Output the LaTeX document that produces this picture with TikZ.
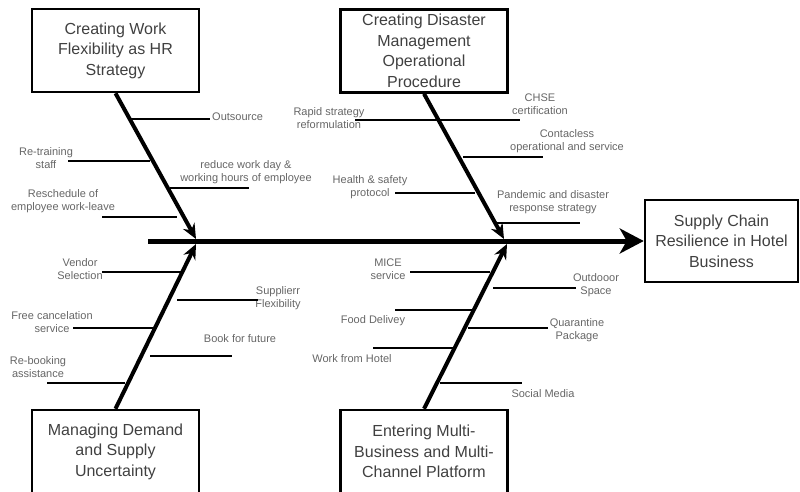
\documentclass[tikz,border=0pt]{standalone}
\usepackage{fontspec}
\setmainfont{Liberation Sans}
\usetikzlibrary{arrows.meta}

\begin{document}
\begin{tikzpicture}[x=1pt,y=-1pt,
cause/.style={draw=black,line width=2.5pt,minimum width=167pt,minimum height=83pt,align=center,inner sep=0pt,text=black!75,font=\fontsize{16}{20.5}\selectfont},
effect/.style={cause,minimum width=153pt,minimum height=82pt},
spine/.style={line width=5pt,-{Stealth[length=24pt,width=25pt,inset=7pt]}},
bone/.style={line width=4pt,-{Stealth[length=15pt,width=13pt,inset=5pt]}},
rib/.style={line width=2pt},
lbl/.style={align=center,inner sep=0pt,text=black!60,font=\fontsize{11}{13.5}\selectfont}]
\useasboundingbox (0,0) rectangle (800,492);

\node (C1)[cause] at (115.5,50.5) {Creating Work\\Flexibility as HR\\Strategy};
\node (C2)[cause] at (424,51) {Creating Disaster\\Management\\Operational\\Procedure};
\node (C3)[cause] at (115.5,451.5) {Managing Demand\\and Supply\\Uncertainty};
\node (C4)[cause] at (424,451.5) {Entering Multi-\\Business and Multi-\\Channel Platform};
\node (R)[effect] at (721.5,241) {Supply Chain\\Resilience in Hotel\\Business};

\path (148,241) coordinate (S0) (196,239) coordinate (H1) (504,239) coordinate (H2) (196,244) coordinate (H3) (507,244) coordinate (H4);
\draw[spine] (S0)--(R.west);
\draw[bone] (C1.south)--(H1);
\draw[bone] (C2.south)--(H2);
\draw[bone] (C3.north)--(H3);
\draw[bone] (C4.north)--(H4);

% HR strategy
\path (131,119) coordinate (A11) (210,119) coordinate (B11) (212,117) node (L11)[lbl,anchor=west] {Outsource};
\draw[rib] (A11)--(B11);
\path (68,161) coordinate (A12) (150,161) coordinate (B12) (46,158) node (L12)[lbl] {Re-training\\staff};
\draw[rib] (A12)--(B12);
\path (170,188) coordinate (A13) (249,188) coordinate (B13) (246,172) node (L13)[lbl] {reduce work day \&\\working hours of employee};
\draw[rib] (A13)--(B13);
\path (102,217) coordinate (A14) (177,217) coordinate (B14) (63,201) node (L14)[lbl] {Reschedule of\\employee work-leave};
\draw[rib] (A14)--(B14);

% disaster management
\path (355,120) coordinate (A21) (438,120) coordinate (B21) (329,118) node (L21)[lbl] {Rapid strategy\\reformulation};
\draw[rib] (A21)--(B21);
\path (438,120) coordinate (A22) (520,120) coordinate (B22) (540,104) node (L22)[lbl] {CHSE\\certification};
\draw[rib] (A22)--(B22);
\path (463,157) coordinate (A23) (543,157) coordinate (B23) (567,141) node (L23)[lbl] {Contacless\\operational and service};
\draw[rib] (A23)--(B23);
\path (395,193) coordinate (A24) (475,193) coordinate (B24) (370,187) node (L24)[lbl] {Health \& safety\\protocol};
\draw[rib] (A24)--(B24);
\path (497,223) coordinate (A25) (580,223) coordinate (B25) (553,202) node (L25)[lbl] {Pandemic and disaster\\response strategy};
\draw[rib] (A25)--(B25);

% demand and supply
\path (102,272) coordinate (A31) (182,272) coordinate (B31) (80,269) node (L31)[lbl] {Vendor\\Selection};
\draw[rib] (A31)--(B31);
\path (177,300) coordinate (A32) (258,300) coordinate (B32) (278,298) node (L32)[lbl] {Supplierr\\Flexibility};
\draw[rib] (A32)--(B32);
\path (73,328) coordinate (A33) (153,328) coordinate (B33) (52,322) node (L33)[lbl] {Free cancelation\\service};
\draw[rib] (A33)--(B33);
\path (150,356) coordinate (A34) (232,356) coordinate (B34) (240,339) node (L34)[lbl] {Book for future};
\draw[rib] (A34)--(B34);
\path (47,383) coordinate (A35) (125,383) coordinate (B35) (38,367) node (L35)[lbl] {Re-booking\\assistance};
\draw[rib] (A35)--(B35);

% multi-channel
\path (410,272) coordinate (A41) (490,272) coordinate (B41) (388,269) node (L41)[lbl] {MICE\\service};
\draw[rib] (A41)--(B41);
\path (493,288) coordinate (A42) (576,288) coordinate (B42) (596,285) node (L42)[lbl] {Outdooor\\Space};
\draw[rib] (A42)--(B42);
\path (395,310) coordinate (A43) (475,310) coordinate (B43) (373,321) node (L43)[lbl] {Food Delivey};
\draw[rib] (A43)--(B43);
\path (468,328) coordinate (A44) (548,328) coordinate (B44) (577,330) node (L44)[lbl] {Quarantine\\Package};
\draw[rib] (A44)--(B44);
\path (373,348) coordinate (A45) (453,348) coordinate (B45) (352,359) node (L45)[lbl] {Work from Hotel};
\draw[rib] (A45)--(B45);
\path (440,383) coordinate (A46) (522,383) coordinate (B46) (543,394) node (L46)[lbl] {Social Media};
\draw[rib] (A46)--(B46);

\end{tikzpicture}
\end{document}
